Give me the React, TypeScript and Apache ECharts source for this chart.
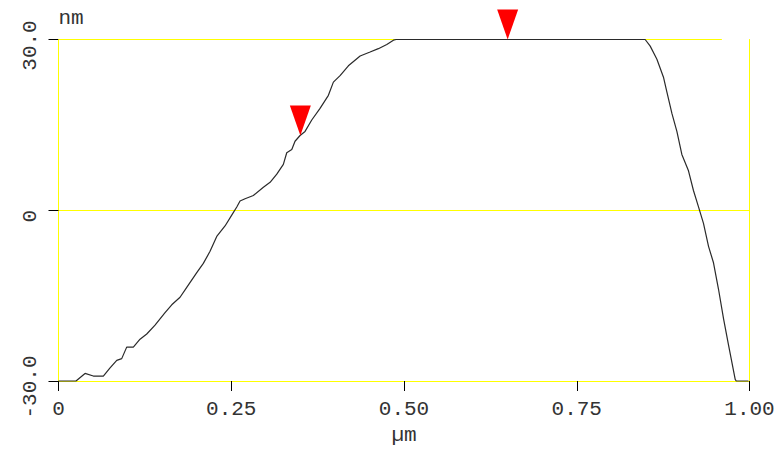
import React, { useEffect, useRef } from "react";
import * as echarts from "echarts";

// Height profile (x in µm, y in nm)
const profileX = [
  0, 0.0253, 0.0384, 0.0504, 0.0649, 0.0746, 0.0843, 0.0915, 0.0987, 0.1083,
  0.118, 0.1277, 0.1397, 0.1542, 0.1639, 0.1759, 0.1856, 0.2001, 0.2096, 0.2193,
  0.229, 0.241, 0.2507, 0.258, 0.2627, 0.27, 0.282, 0.2965, 0.3062, 0.3159,
  0.3254, 0.3303, 0.3376, 0.3423, 0.3496, 0.3568, 0.3665, 0.3785, 0.3906, 0.3978,
  0.4075, 0.4195, 0.4365, 0.4509, 0.4629, 0.4751, 0.4847, 0.4886, 0.849, 0.8563,
  0.866, 0.8755, 0.8804, 0.8877, 0.8949, 0.9021, 0.9117, 0.9189, 0.9262, 0.9334,
  0.9407, 0.9479, 0.9551, 0.9624, 0.9696, 0.9793, 0.9808, 0.9986,
];
const profileY = [
  -30, -30, -28.67, -29.13, -29.13, -27.68, -26.37, -26.07, -24.05, -24.05,
  -22.66, -21.74, -20.19, -17.99, -16.61, -15.29, -13.56, -10.96, -9.34, -7.21,
  -4.61, -2.76, -0.86, 0.58, 1.62, 2.02, 2.6, 4.04, 4.91, 6.34,
  8.07, 10.1, 10.67, 12.12, 13.13, 13.85, 15.86, 17.89, 20.19, 22.51,
  23.65, 25.38, 27.11, 27.8, 28.39, 29.13, 29.88, 30, 30, 28.84,
  26.54, 23.37, 20.78, 17.02, 13.85, 9.8, 6.93, 3.47, 0.58, -2.31,
  -6.34, -9.23, -13.84, -19.03, -23.65, -29.71, -30, -30,
];

// Cursor markers
const markerX = [0.35, 0.65];
const markerY = [13.13, 30];

// Axis tick labels
const xTickLabels = ["0", "0.25", "0.50", "0.75", "1.00"];
const yTickLabels = ["-30.0", "0", "30.0"];

const FONT = "Liberation Mono";
const TEXT_COLOR = "#333";
const YELLOW = "#ffff00";

export default function App() {
  const ref = useRef<HTMLDivElement>(null);

  useEffect(() => {
    document.body.style.margin = "0";
    if (!ref.current) return;
    const chart = echarts.init(ref.current, undefined, { renderer: "svg" });

    const profile = profileX.map((x, i) => [x, profileY[i]]);
    const markers = markerX.map((x, i) => [x, markerY[i]]);

    chart.setOption({
      animation: false,
      backgroundColor: "#fff",
      grid: { left: 58.5, right: 33.5, top: 39.5, bottom: 63.5, containLabel: false },
      xAxis: {
        type: "value",
        min: 0,
        max: 1,
        interval: 0.25,
        name: "µm",
        nameLocation: "middle",
        nameGap: 44,
        nameTextStyle: { fontFamily: FONT, fontSize: 21, color: TEXT_COLOR },
        axisLine: { show: true, onZero: false, lineStyle: { color: YELLOW, width: 1 } },
        axisTick: { show: true, length: 10, lineStyle: { color: "#000", width: 1 } },
        axisLabel: {
          margin: 18,
          fontFamily: FONT,
          fontSize: 21,
          color: TEXT_COLOR,
          showMinLabel: true,
          showMaxLabel: true,
          formatter: (_v: number, i: number) => xTickLabels[i],
        },
        splitLine: { show: false },
      },
      yAxis: [
        {
          type: "value",
          min: -30,
          max: 30,
          interval: 30,
          name: "nm",
          nameLocation: "end",
          nameGap: 11,
          nameTextStyle: { fontFamily: FONT, fontSize: 21, color: TEXT_COLOR, align: "left" },
          axisLine: { show: true, onZero: false, lineStyle: { color: YELLOW, width: 1 } },
          axisTick: { show: true, length: 10, lineStyle: { color: "#000", width: 1 } },
          axisLabel: {
            rotate: 90,
            margin: 18,
            fontFamily: FONT,
            fontSize: 21,
            color: TEXT_COLOR,
            padding: [0, 12, 0, 0],
            showMinLabel: true,
            showMaxLabel: true,
            formatter: (_v: number, i: number) => yTickLabels[i],
          },
          splitLine: {
            show: true,
            lineStyle: { color: [YELLOW, YELLOW, "rgba(0,0,0,0)"], width: 1 },
          },
        },
        {
          type: "value",
          position: "right",
          min: -30,
          max: 30,
          interval: 30,
          axisLine: { show: true, onZero: false, lineStyle: { color: YELLOW, width: 1 } },
          axisTick: { show: false },
          axisLabel: { show: false },
          splitLine: { show: false },
        },
      ],
      series: [
        {
          type: "line",
          data: [],
          z: 1,
          silent: true,
          clip: false,
          markLine: {
            z: 1,
            silent: true,
            symbol: ["none", "none"],
            label: { show: false },
            lineStyle: { color: YELLOW, width: 1, type: "solid", opacity: 1 },
            emphasis: { disabled: true },
            data: [[{ coord: [0, 30] }, { coord: [0.96, 30] }]],
          },
        },
        {
          type: "line",
          data: profile,
          z: 10,
          silent: true,
          clip: false,
          showSymbol: false,
          symbol: "none",
          lineStyle: { color: "#2a2a2a", width: 1.2 },
        },
        {
          type: "scatter",
          data: markers,
          z: 11,
          silent: true,
          clip: false,
          symbol: "triangle",
          symbolRotate: 180,
          symbolSize: [21, 30],
          symbolOffset: [0, -15],
          itemStyle: { color: "#ff0000", opacity: 1 },
        },
      ],
    });

    return () => chart.dispose();
  }, []);

  return <div ref={ref} style={{ width: 783, height: 451 }} />;
}
